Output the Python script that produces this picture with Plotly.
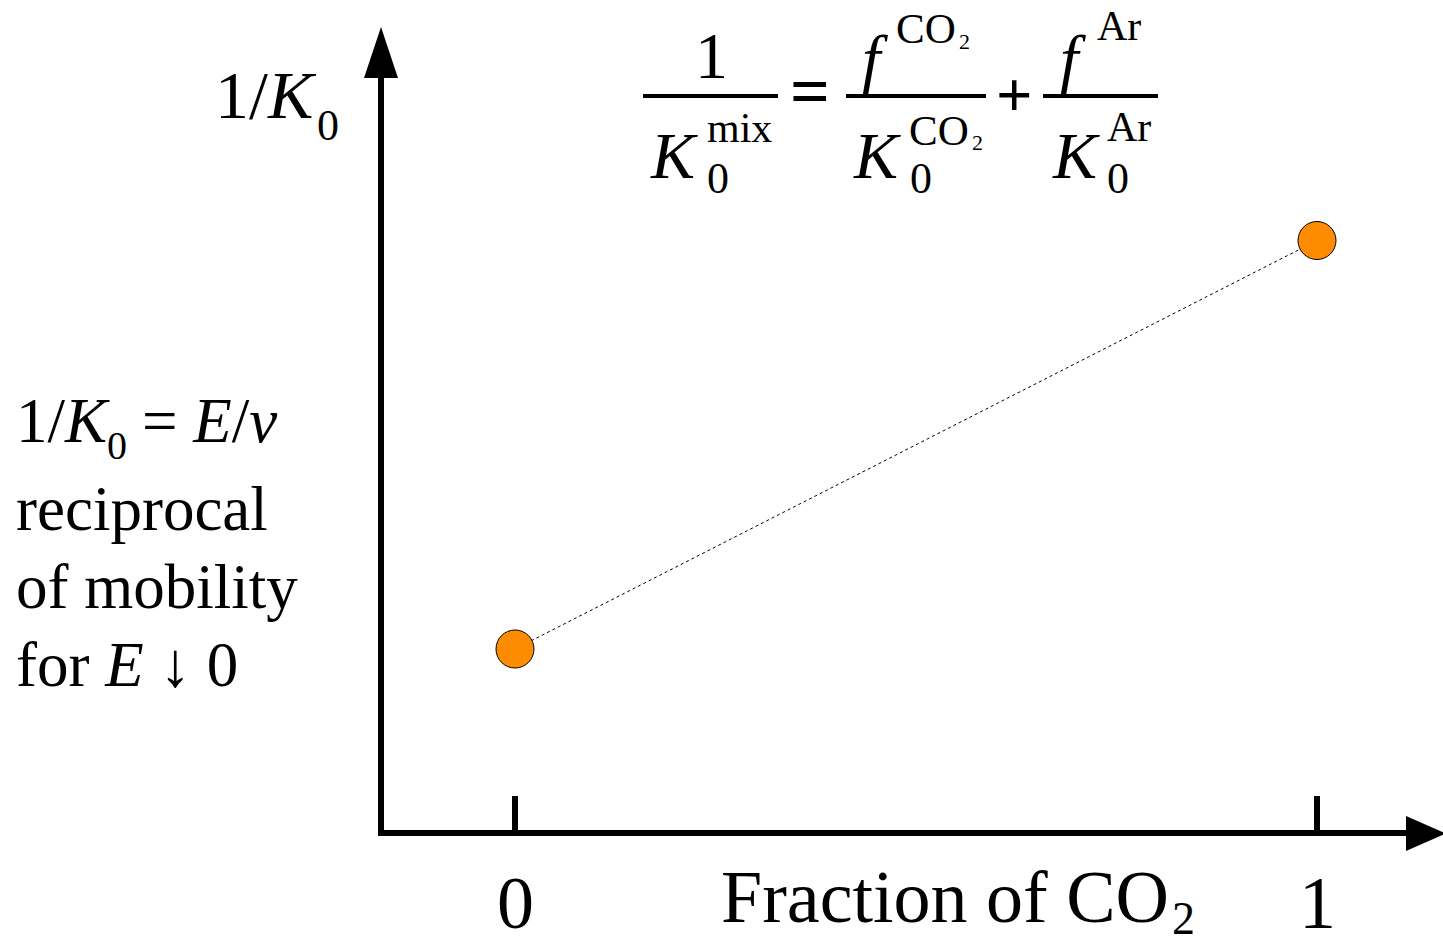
import plotly.graph_objects as go

W, H = 1443, 945

# Data: reciprocal low-field mobility versus CO2 fraction in a CO2/Ar mixture
co2_fraction = [0, 1]
inv_k0 = [1.0, 3.22]
tick_values = [0, 1]
tick_labels = ["0", "1"]

# Frame geometry (pixels)
X0_PX, X1_PX = 515, 1317   # columns of fraction 0 and 1
Y0_PX = 833                # row of the horizontal axis (1/K0 = 0)
Y_SCALE = 184              # pixels per unit of 1/K0
X_SCALE = X1_PX - X0_PX

FONT = "Liberation Serif"


def px(x):
    return x / W


def py(y):
    return 1 - y / H


fig = go.Figure()

fig.add_trace(go.Scatter(
    x=co2_fraction, y=inv_k0,
    mode="lines+markers",
    line=dict(color="black", width=1, dash="3px,3px"),
    marker=dict(size=38, color="#FF8C00", line=dict(color="black", width=1)),
    hoverinfo="skip", showlegend=False,
))

shapes = []
# vertical axis with arrowhead
shapes.append(dict(type="line", xref="paper", yref="paper",
                   x0=px(381), x1=px(381), y0=py(836), y1=py(74),
                   line=dict(color="black", width=6)))
shapes.append(dict(type="path", xref="paper", yref="paper",
                   path=f"M {px(364)},{py(78)} L {px(398)},{py(78)} L {px(381)},{py(27)} Z",
                   fillcolor="black", line=dict(color="black", width=0)))
# horizontal axis with arrowhead
shapes.append(dict(type="line", xref="paper", yref="paper",
                   x0=px(378), x1=px(1408), y0=py(833), y1=py(833),
                   line=dict(color="black", width=6)))
shapes.append(dict(type="path", xref="paper", yref="paper",
                   path=f"M {px(1406)},{py(816)} L {px(1406)},{py(851)} L {px(1446)},{py(833.5)} Z",
                   fillcolor="black", line=dict(color="black", width=0)))
# tick marks at fraction 0 and 1
for t in tick_values:
    shapes.append(dict(type="line", xref="x", yref="paper",
                       x0=t, x1=t, y0=py(796), y1=py(831),
                       line=dict(color="black", width=6)))
# fraction bars of the mixing rule
for a, b in [(643, 778), (846, 986), (1043, 1158)]:
    shapes.append(dict(type="line", xref="paper", yref="paper",
                       x0=px(a), x1=px(b), y0=py(96), y1=py(96),
                       line=dict(color="black", width=4)))

annotations = []


def text(s, x, y, size, anchor="left", bold=False):
    annotations.append(dict(
        text=f"<b>{s}</b>" if bold else s,
        xref="paper", yref="paper", x=px(x), y=py(y),
        xanchor=anchor, yanchor="middle", showarrow=False,
        font=dict(family=FONT, size=size, color="black"),
    ))


# tick labels
for t, lab in zip(tick_values, tick_labels):
    annotations.append(dict(
        text=lab, xref="x", yref="paper", x=t, y=py(903),
        xanchor="center", yanchor="middle", showarrow=False,
        font=dict(family=FONT, size=74, color="black"),
    ))

# x-axis title
text("Fraction of CO", 719, 897, 74)
text("2", 1170, 918, 46)

# y-axis title
text("1/<i>K</i>", 213, 95, 68)
text("0", 315, 125, 44)

# left-hand explanation
text("1/<i>K</i>", 14, 421, 63)
text("0", 105, 446, 40)
text("= <i>E</i>/<i>v</i>", 140, 421, 63)
text("reciprocal", 14, 509, 63)
text("of mobility", 14, 587, 63)
text("for <i>E</i> ↓ 0", 14, 665, 63)

# mixing rule: 1/K0^mix = f^CO2/K0^CO2 + f^Ar/K0^Ar
text("1", 711, 56, 66, anchor="center")
text("<i>K</i>", 648, 156, 66)
text("mix", 705, 128, 42)
text("0", 705, 178, 44)
text("=", 810, 92, 70, anchor="center", bold=True)

text("<i>f</i>", 860, 58, 66)
text("CO", 894, 28, 43)
text("2", 957, 41, 22)
text("<i>K</i>", 851, 156, 66)
text("CO", 907, 130, 43)
text("2", 970, 142, 22)
text("0", 908, 178, 44)

text("+", 1014, 94, 64, anchor="center", bold=True)

text("<i>f</i>", 1058, 58, 66)
text("Ar", 1095, 26, 42)
text("<i>K</i>", 1050, 156, 66)
text("Ar", 1105, 127, 42)
text("0", 1105, 178, 44)

fig.update_layout(
    width=W, height=H,
    margin=dict(l=0, r=0, t=0, b=0),
    paper_bgcolor="white", plot_bgcolor="white",
    xaxis=dict(range=[(0 - X0_PX) / X_SCALE, (W - X0_PX) / X_SCALE],
               visible=False, fixedrange=True),
    yaxis=dict(range=[(Y0_PX - H) / Y_SCALE, Y0_PX / Y_SCALE],
               visible=False, fixedrange=True),
    shapes=shapes,
    annotations=annotations,
    showlegend=False,
)

fig.write_html("out.html")
